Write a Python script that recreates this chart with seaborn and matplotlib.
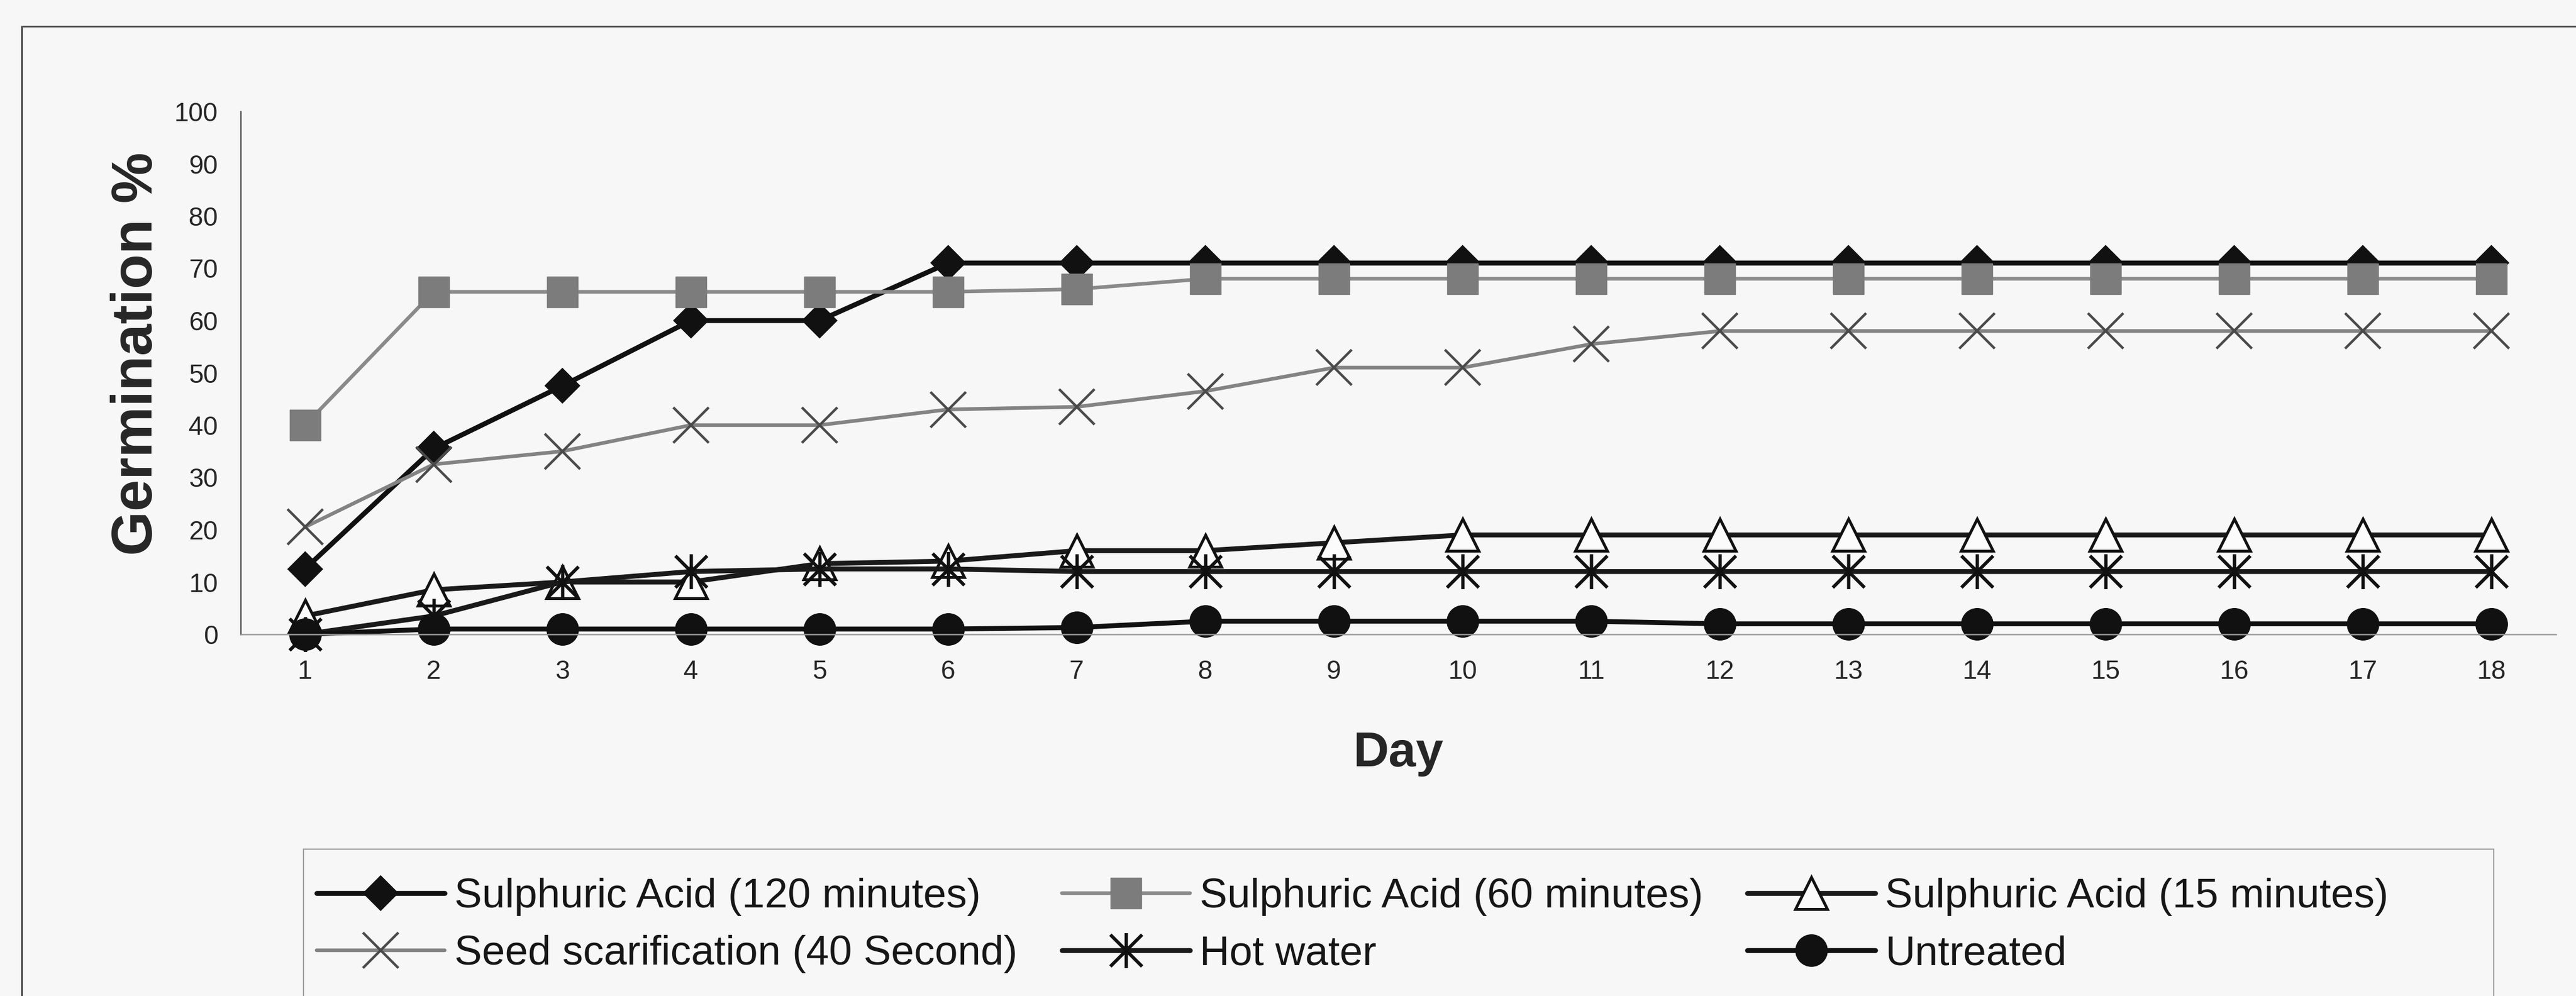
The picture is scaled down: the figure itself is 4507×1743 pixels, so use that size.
import matplotlib
matplotlib.use("Agg")
import matplotlib.pyplot as plt
from matplotlib.path import Path
from matplotlib.patches import Rectangle
from matplotlib.lines import Line2D
import seaborn as sns

# ---- data -------------------------------------------------------------
days = list(range(1, 19))
day_labels = [str(d) for d in days]
y_ticks = [0, 10, 20, 30, 40, 50, 60, 70, 80, 90, 100]

acid_120 = [12.5, 35.5, 47.5, 60, 60, 71, 71, 71, 71, 71, 71, 71, 71, 71, 71, 71, 71, 71]
acid_60 = [40, 65.5, 65.5, 65.5, 65.5, 65.5, 66, 68, 68, 68, 68, 68, 68, 68, 68, 68, 68, 68]
acid_15 = [3.5, 8.5, 10, 10, 13.5, 14, 16, 16, 17.5, 19, 19, 19, 19, 19, 19, 19, 19, 19]
scarification = [20.5, 32.5, 35, 40, 40, 43, 43.5, 46.5, 51, 51, 55.5, 58, 58, 58, 58, 58, 58, 58]
hot_water = [0, 3.5, 10, 12, 12.5, 12.5, 12, 12, 12, 12, 12, 12, 12, 12, 12, 12, 12, 12]
untreated = [0, 1, 1, 1, 1, 1, 1.3, 2.5, 2.5, 2.5, 2.5, 2, 2, 2, 2, 2, 2, 2]

series_names = [
    "Sulphuric Acid (120 minutes)",
    "Sulphuric Acid (60 minutes)",
    "Sulphuric Acid (15 minutes)",
    "Seed scarification (40 Second)",
    "Hot water",
    "Untreated",
]

# ---- style ------------------------------------------------------------
sns.set_style("white")
plt.rcParams["font.family"] = ["Liberation Sans", "DejaVu Sans"]
plt.rcParams["text.color"] = "#161616"

W, H, DPI = 4507, 1743, 100
BG = "#f7f7f7"
fig = plt.figure(figsize=(W / DPI, H / DPI), dpi=DPI, facecolor=BG)


def fx(px):
    return px / W


def fy(py):
    return 1 - py / H


ax_left, ax_right, ax_top, ax_bottom = 421, 4472, 195, 1110
ax = fig.add_axes([fx(ax_left), fy(ax_bottom), fx(ax_right - ax_left), (ax_bottom - ax_top) / H])
ax.set_facecolor(BG)

# asterisk marker: an X with a vertical stroke
asterisk = Path(
    [(-0.5, -0.5), (0.5, 0.5), (-0.5, 0.5), (0.5, -0.5), (0, -0.55), (0, 0.55)],
    [Path.MOVETO, Path.LINETO, Path.MOVETO, Path.LINETO, Path.MOVETO, Path.LINETO],
)

styles = [
    dict(color="#111111", marker="D", markersize=31, markerfacecolor="#111111",
         markeredgecolor="#111111", markeredgewidth=1.5, linewidth=6.2),
    dict(color="#8a8a8a", marker="s", markersize=39, markerfacecolor="#7c7c7c",
         markeredgecolor="#7c7c7c", markeredgewidth=1.0, linewidth=4.6),
    dict(color="#1a1a1a", marker="^", markersize=40, markerfacecolor="#fbfbfb",
         markeredgecolor="#111111", markeredgewidth=3.6, linewidth=6.2),
    dict(color="#838383", marker="x", markersize=44, markerfacecolor="none",
         markeredgecolor="#4a4a4a", markeredgewidth=3.2, linewidth=4.6),
    dict(color="#1a1a1a", marker=asterisk, markersize=44, markerfacecolor="none",
         markeredgecolor="#111111", markeredgewidth=4.2, linewidth=6.2),
    dict(color="#111111", marker="o", markersize=40, markerfacecolor="#111111",
         markeredgecolor="#111111", markeredgewidth=1.0, linewidth=6.2),
]

all_series = [acid_120, acid_60, acid_15, scarification, hot_water, untreated]
for name, values, st in zip(series_names, all_series, styles):
    sns.lineplot(x=days, y=values, ax=ax, label=name, legend=False,
                 clip_on=False, **st)

# ---- axes -------------------------------------------------------------
ax.set_xlim(days[0] - 0.5, days[-1] + 0.5)
ax.set_ylim(0, 100)
ax.set_yticks(y_ticks)
ax.set_yticklabels([str(v) for v in y_ticks], fontsize=33)
ax.set_xticks(days)
ax.set_xticklabels(day_labels, fontsize=33)
ax.set_xticks([d - 0.5 for d in days] + [days[-1] + 0.5], minor=True)

ax.tick_params(axis="x", which="major", length=0, pad=32)
ax.tick_params(axis="x", which="minor", direction="out", length=12, width=1.8,
               color="#8d8d8d")
ax.tick_params(axis="y", which="major", direction="out", length=9.5, width=1.8,
               color="#555555", pad=19)

for side in ("top", "right"):
    ax.spines[side].set_visible(False)
ax.spines["left"].set_color("#555555")
ax.spines["left"].set_linewidth(1.8)
ax.spines["bottom"].set_color("#9a9a9a")
ax.spines["bottom"].set_linewidth(1.8)
ax.grid(False)

ax.set_ylabel("Germination %", fontsize=72, fontweight="bold")
ax.yaxis.set_label_coords((287 - ax_left) / (ax_right - ax_left), 0.537)
ax.set_xlabel("Day", fontsize=62, fontweight="bold")
ax.xaxis.set_label_coords(0.5, (ax_bottom - 1279) / (ax_bottom - ax_top))

# ---- legend (row-major order across three columns) ----------------------
handles, labels = ax.get_legend_handles_labels()
order = [0, 3, 1, 4, 2, 5]
leg = fig.legend(
    [handles[i] for i in order], [labels[i] for i in order],
    ncol=3, loc="upper left", bbox_to_anchor=(fx(554), fy(1536)),
    bbox_transform=fig.transFigure, frameon=False, fontsize=52,
    handlelength=3.1, handletextpad=0.24, columnspacing=1.07,
    labelspacing=0.46, borderpad=0, borderaxespad=0,
)

# legend box and outer chart border
fig.patches.append(Rectangle((fx(531), fy(1750)), fx(4363 - 531), (1750 - 1486) / H,
                             transform=fig.transFigure, fill=False,
                             edgecolor="#a0a0a0", linewidth=1.6))
fig.lines.append(Line2D([fx(38), fx(38)], [fy(46), 0], transform=fig.transFigure,
                        color="#444444", linewidth=2.2))
fig.lines.append(Line2D([fx(38), 1], [fy(46), fy(46)], transform=fig.transFigure,
                        color="#555555", linewidth=2.2))

fig.savefig("out.png", dpi=DPI, facecolor=BG)
